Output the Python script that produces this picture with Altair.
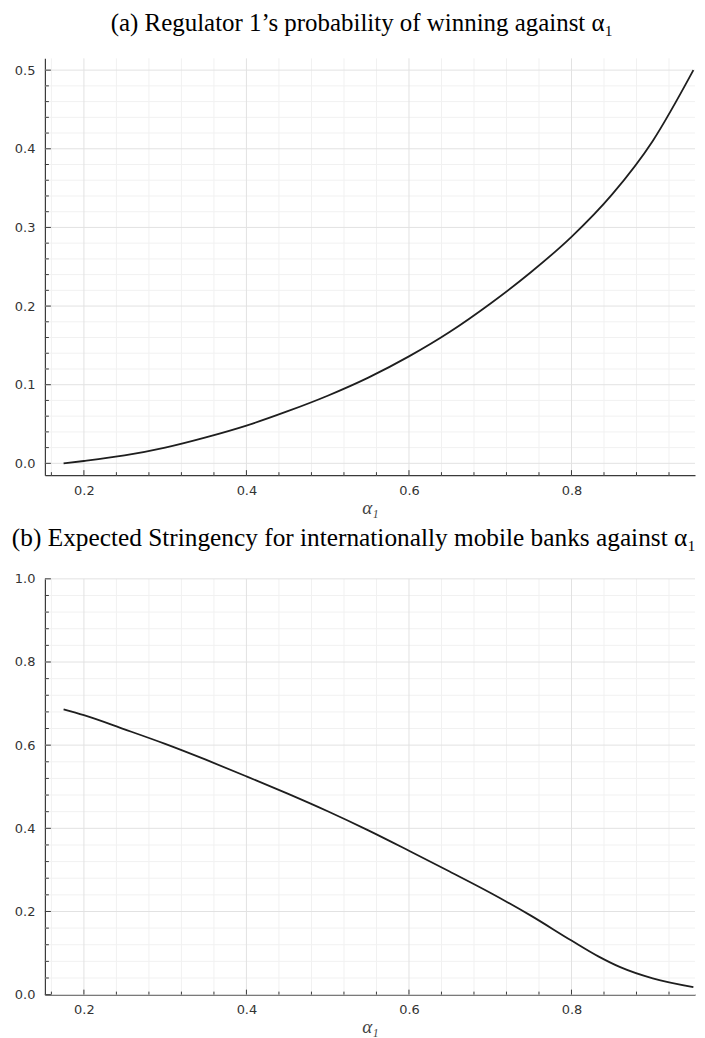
import altair as alt
import pandas as pd

# ---- data ----
alpha_a = [0.175, 0.2, 0.25, 0.3, 0.35, 0.4, 0.45, 0.5, 0.55, 0.6, 0.65, 0.7, 0.75, 0.8, 0.85, 0.9, 0.95]
prob_win = [0.0, 0.003, 0.010, 0.020, 0.033, 0.048, 0.066, 0.086, 0.109, 0.136, 0.167, 0.203, 0.243, 0.288, 0.342, 0.410, 0.5]

alpha_b = [0.175, 0.2, 0.25, 0.3, 0.35, 0.4, 0.45, 0.5, 0.55, 0.6, 0.65, 0.7, 0.75, 0.8, 0.833, 0.86, 0.9, 0.95]
stringency = [0.686, 0.672, 0.638, 0.603, 0.565, 0.525, 0.484, 0.441, 0.395, 0.346, 0.296, 0.245, 0.190, 0.130, 0.092, 0.066, 0.039, 0.018]

x_major = [0.2, 0.4, 0.6, 0.8]
x_minor = [0.16, 0.24, 0.28, 0.32, 0.36, 0.44, 0.48, 0.52, 0.56, 0.64, 0.68, 0.72, 0.76, 0.84, 0.88, 0.92]

ya_major = [0.0, 0.1, 0.2, 0.3, 0.4, 0.5]
ya_minor = [0.02, 0.04, 0.06, 0.08, 0.12, 0.14, 0.16, 0.18, 0.22, 0.24, 0.26, 0.28,
            0.32, 0.34, 0.36, 0.38, 0.42, 0.44, 0.46, 0.48]

yb_major = [0.0, 0.2, 0.4, 0.6, 0.8, 1.0]
yb_minor = [0.04, 0.08, 0.12, 0.16, 0.24, 0.28, 0.32, 0.36, 0.44, 0.48, 0.52, 0.56,
            0.64, 0.68, 0.72, 0.76, 0.84, 0.88, 0.92, 0.96]

title_a = "(a) Regulator 1\u2019s probability of winning against \u03b1\u2081"
title_b = "(b) Expected Stringency for internationally mobile banks against \u03b1\u2081"

X_DOMAIN = [0.152, 0.952]
W = 652
AX = "#3a3a3a"
G_MAJ = "#e2e2e2"
G_MIN = "#f1f1f1"


def panel(xs, ys, ydom, ymaj, ymin, H, title, dx, fs):
    xscale = alt.Scale(domain=X_DOMAIN, nice=False, zero=False)
    yscale = alt.Scale(domain=ydom, nice=False, zero=False)
    xaxis = alt.Axis(values=x_major, format=".1f", grid=False, ticks=False,
                     labelPadding=9, title="\u03b1\u2081", titlePadding=1,
                     titleFont="Liberation Serif", titleFontSize=19,
                     titleFontStyle="italic", titleFontWeight="normal",
                     titleColor="#444")
    yaxis = alt.Axis(values=ymaj, format=".1f", grid=False, ticks=False,
                     labelPadding=10, title=None)

    def X(f="v"):
        return alt.X(f"{f}:Q", scale=xscale, axis=xaxis)

    def Y(f="v"):
        return alt.Y(f"{f}:Q", scale=yscale, axis=yaxis)

    dfx_maj = pd.DataFrame({"v": x_major})
    dfx_min = pd.DataFrame({"v": x_minor})
    dfy_maj = pd.DataFrame({"v": ymaj})
    dfy_min = pd.DataFrame({"v": ymin})
    line_df = pd.DataFrame({"a": xs, "p": ys})

    gx_min = alt.Chart(dfx_min).mark_rule(color=G_MIN, strokeWidth=1).encode(x=X())
    gx_maj = alt.Chart(dfx_maj).mark_rule(color=G_MAJ, strokeWidth=1).encode(x=X())
    gy_min = alt.Chart(dfy_min).mark_rule(color=G_MIN, strokeWidth=1).encode(y=Y())
    gy_maj = alt.Chart(dfy_maj).mark_rule(color=G_MAJ, strokeWidth=1).encode(y=Y())

    line = alt.Chart(line_df).mark_line(color="#1e1e1e", strokeWidth=1.8,
                                        interpolate="monotone").encode(
        x=X("a"), y=Y("p"), order="a:Q")

    tx_maj = alt.Chart(dfx_maj).mark_rule(color=AX, strokeWidth=1).encode(
        x=X(), y=alt.value(H), y2=alt.value(H - 5))
    tx_min = alt.Chart(dfx_min).mark_rule(color=AX, strokeWidth=1).encode(
        x=X(), y=alt.value(H), y2=alt.value(H - 3))
    ty_maj = alt.Chart(dfy_maj).mark_rule(color=AX, strokeWidth=1).encode(
        y=Y(), x=alt.value(0), x2=alt.value(6))
    ty_min = alt.Chart(dfy_min).mark_rule(color=AX, strokeWidth=1).encode(
        y=Y(), x=alt.value(0), x2=alt.value(4))

    return alt.layer(gx_min, gy_min, gx_maj, gy_maj, line,
                     tx_maj, tx_min, ty_maj, ty_min).properties(
        width=W, height=H,
        title=alt.TitleParams(title, font="Liberation Serif", fontSize=fs,
                              fontWeight="normal", color="black",
                              anchor="middle", dx=dx, offset=22))


top = panel(alpha_a, prob_win, [-0.015, 0.515], ya_major, ya_minor, 418, title_a, -8, 25)
bottom = panel(alpha_b, stringency, [0.0, 1.0], yb_major, yb_minor, 417, title_b, -16, 25.4)

chart = alt.vconcat(top, bottom, spacing=8).configure(
    padding={"left": 3, "top": 1, "right": 0, "bottom": 0}
).configure_view(stroke=None).configure_axis(
    labelFont="DejaVu Sans", labelFontSize=13, labelColor="#333",
    domainColor=AX, domainWidth=1.2
)

chart.save("out.html", embed_options={"renderer": "svg", "actions": False})
